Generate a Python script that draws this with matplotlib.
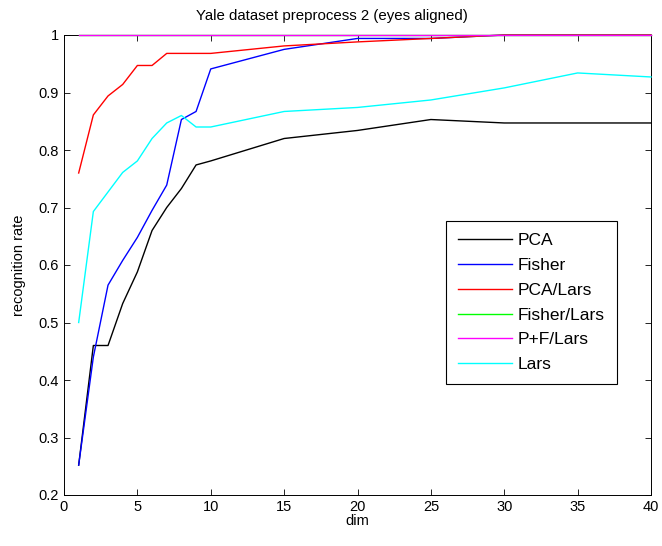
import matplotlib
matplotlib.use('Agg')
import matplotlib.pyplot as plt

FONT = 'Liberation Sans'
plt.rcParams['font.family'] = FONT

dims = [1, 2, 3, 4, 5, 6, 7, 8, 9, 10, 15, 20, 25, 30, 35, 40]
pca = [0.252, 0.46, 0.46, 0.533, 0.588, 0.66, 0.70, 0.733, 0.774, 0.781,
       0.820, 0.834, 0.853, 0.847, 0.847, 0.847]
fisher = [0.252, 0.44, 0.565, 0.608, 0.648, 0.695, 0.739, 0.853, 0.867, 0.941,
          0.975, 0.994, 0.994, 1.0, 1.0, 1.0]
pca_lars = [0.76, 0.861, 0.894, 0.914, 0.947, 0.947, 0.968, 0.968, 0.968, 0.968,
            0.981, 0.988, 0.994, 1.0, 1.0, 1.0]
fisher_lars = [1.0] * 16
pf_lars = [1.0] * 16
lars = [0.5, 0.693, 0.727, 0.761, 0.781, 0.820, 0.847, 0.860, 0.84, 0.84,
        0.867, 0.874, 0.887, 0.908, 0.934, 0.927]

series = [('PCA', pca, '#000000'), ('Fisher', fisher, '#0000ff'),
          ('PCA/Lars', pca_lars, '#ff0000'), ('Fisher/Lars', fisher_lars, '#00ff00'),
          ('P+F/Lars', pf_lars, '#ff00ff'), ('Lars', lars, '#00ffff')]

xticks = [0, 5, 10, 15, 20, 25, 30, 35, 40]
yticks = [0.2, 0.3, 0.4, 0.5, 0.6, 0.7, 0.8, 0.9, 1.0]
ylabels = ['0.2', '0.3', '0.4', '0.5', '0.6', '0.7', '0.8', '0.9', '1']

fig = plt.figure(figsize=(6.62, 5.46), dpi=100, facecolor='white')
ax = fig.add_axes([64 / 662, 51 / 546, 587 / 662, 460 / 546])

for name, vals, col in series:
    ax.plot(dims, vals, color=col, lw=1.0, label=name, clip_on=False, zorder=3)

ax.set_xlim(0, 40)
ax.set_ylim(0.2, 1.0)
ax.set_xticks(xticks)
ax.set_yticks(yticks)
ax.set_yticklabels(ylabels)
ax.tick_params(direction='in', top=True, right=True, labelsize=10.5,
               length=4, width=0.6)
for sp in ax.spines.values():
    sp.set_linewidth(0.7)
ax.set_xlabel('dim', fontsize=10.5, labelpad=0)
ax.set_ylabel('recognition rate', fontsize=10.5, labelpad=9)
ax.set_title('Yale dataset preprocess 2 (eyes aligned)', fontsize=10.8,
             pad=11, x=0.457)

leg = ax.legend(loc='lower right', bbox_to_anchor=(0.942, 0.241),
                borderaxespad=0, fontsize=12.5, fancybox=False, framealpha=1,
                edgecolor='black', handlelength=3.1, labelspacing=0.55,
                borderpad=0.7, handletextpad=0.35)
leg.get_frame().set_linewidth(0.8)
leg.set_zorder(5)

fig.savefig('out.png', dpi=100, facecolor='white')
plt.close()
